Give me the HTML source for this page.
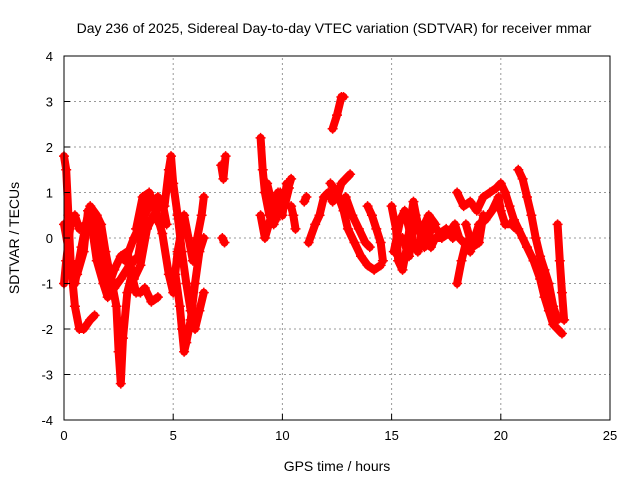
<!DOCTYPE html>
<html><head><meta charset="utf-8"><style>
body{margin:0;background:#fff}
svg{display:block;font-family:"Liberation Sans",sans-serif}
</style></head><body>
<svg id="chart" width="640" height="480" viewBox="0 0 640 480" xmlns="http://www.w3.org/2000/svg">
<text x="334" y="33" font-size="14" text-anchor="middle">Day 236 of 2025, Sidereal Day-to-day VTEC variation (SDTVAR) for receiver mmar</text>
<text transform="translate(19,238) rotate(-90)" font-size="14" text-anchor="middle">SDTVAR / TECUs</text>
<text x="337" y="471" font-size="14" text-anchor="middle">GPS time / hours</text>
<g id="grid"></g>
<g id="marks"></g>
<rect x="64" y="56" width="546" height="364" fill="none" stroke="#000" stroke-width="1"/>
<g id="ticks"></g>
</svg>
<script>
const xTicks=[0,5,10,15,20,25];
const yTicks=[-4,-3,-2,-1,0,1,2,3,4];
const trackA=[[0,1.8],[0.1,1.5],[0.2,0.5],[0.3,-0.5],[0.5,-1.5],[0.7,-2.0],[0.9,-2.0],[1.2,-1.8],[1.4,-1.7]];
const trackB=[[0,-1],[0.1,-0.5],[0.3,0.3],[0.5,0.5],[0.7,0.2],[1.0,0.3],[1.2,0.7],[1.5,0.5],[1.7,0.3],[1.9,-0.3],[2.1,-0.8],[2.3,-1.1],[2.6,-0.9],[3.0,-0.6],[3.4,-0.4],[3.7,0.5],[4.0,0.8],[4.3,0.9],[4.6,0.7],[4.8,1.5],[4.9,1.8],[5.0,1.2],[5.2,0.5],[5.4,-0.3],[5.6,-1.0],[5.8,-1.6],[6.0,-2.0],[6.2,-1.6],[6.4,-1.2]];
const trackC=[[0,0.3],[0.3,-0.5],[0.5,-1],[0.8,-0.2],[1.0,0.3],[1.2,0.5],[1.5,-0.5],[1.8,-1.0],[2.0,-1.3],[2.2,-1.0],[2.4,-1.5],[2.5,-2.5],[2.6,-3.2],[2.7,-2.2],[2.9,-1.2],[3.1,-0.8],[3.3,-1.2],[3.5,-1.2],[3.7,-1.1],[4.0,-1.4],[4.3,-1.3]];
const trackD=[[2.8,-0.5],[3.2,0],[3.5,0.3],[3.8,0.8],[4.2,0.6],[4.5,0.1],[4.8,-0.8],[5.0,-1.2],[5.2,-0.3],[5.5,0.5],[5.7,0.0],[5.9,-0.5],[6.1,0],[6.3,0.5],[6.4,0.9]];
const trackE=[[5.1,-0.8],[5.3,-1.5],[5.4,-2.0],[5.5,-2.5],[5.6,-2.3],[5.8,-1.8],[6.0,-1.0],[6.2,-0.3],[6.4,0]];
const trackF=[[7.2,1.6],[7.3,1.3],[7.4,1.8]];
const trackF2=[[7.25,0.0],[7.35,-0.1]];
const trackG=[[9.0,2.2],[9.1,1.5],[9.2,1.0],[9.4,0.5],[9.6,0.3],[9.8,0.6],[10.0,0.9],[10.2,1.0],[10.4,1.3]];
const trackG2=[[9.0,0.5],[9.2,0.0],[9.5,0.5],[9.8,1.0],[10.0,0.5],[10.2,1.2]];
const trackH=[[10.4,0.7],[10.5,0.5],[10.6,0.2]];
const trackH2=[[11.0,0.8],[11.1,0.9]];
const trackI=[[11.2,-0.1],[11.5,0.3],[11.7,0.5],[11.9,0.9],[12.1,1.0],[12.3,0.8],[12.5,0.9],[12.7,1.2],[12.9,1.3],[13.1,1.4]];
const trackJ=[[12.3,2.4],[12.5,2.7],[12.7,3.1],[12.8,3.1]];
const trackK=[[12.2,1.2],[12.5,1.0],[12.8,0.6],[13.0,0.2],[13.3,-0.1],[13.6,-0.4],[13.9,-0.6],[14.2,-0.7],[14.5,-0.6]];
const trackL=[[12.9,0.9],[13.2,0.5],[13.5,0.2],[13.8,-0.1],[14.0,-0.2]];
const trackL2=[[13.9,0.7],[14.1,0.5],[14.3,0.2],[14.5,-0.1],[14.6,-0.5]];
const trackM=[[15.0,0.7],[15.2,0.2],[15.3,-0.5],[15.5,-0.7],[15.7,-0.2],[15.9,0.5],[16.0,0.8],[16.2,0.3],[16.4,0.1],[16.6,0.3],[16.8,-0.2],[17.0,0.0],[17.3,0.0],[17.6,0.1],[17.9,0.3],[18.1,0.0],[18.3,-0.1]];
const trackN=[[15.1,-0.3],[15.4,0.4],[15.6,0.6],[15.9,0],[16.2,-0.3],[16.4,0.2],[16.7,0.5],[17.0,0.3]];
const trackO=[[18.0,1.0],[18.3,0.7],[18.6,0.8],[18.9,0.6],[19.2,0.9],[19.5,1.0],[19.8,1.1],[20.0,1.2],[20.2,1.0],[20.4,0.7],[20.6,0.4],[20.8,0.2],[21.0,0.0],[21.2,-0.2],[21.5,-0.5],[21.8,-0.9],[22.0,-1.3],[22.2,-1.6],[22.4,-1.9],[22.6,-2.0],[22.8,-2.1]];
const trackP=[[18.0,-1.0],[18.2,-0.5],[18.4,-0.1],[18.6,-0.3],[18.8,0.0],[19.0,0.3],[19.3,0.4],[19.6,0.6],[19.9,0.9],[20.0,0.6],[20.2,0.3],[20.5,0.3],[20.7,0.2]];
const trackQ=[[20.8,1.5],[21.0,1.3],[21.2,0.9],[21.4,0.5],[21.6,0.0],[21.8,-0.4],[22.0,-0.7],[22.2,-1.0],[22.4,-1.5],[22.6,-1.8]];
const trackR=[[22.6,0.3],[22.7,-0.5],[22.8,-1.2],[22.9,-1.8]];
const trackS=[[0.6,-0.8],[0.9,-0.3],[1.1,0.6],[1.4,0.2],[1.7,-0.6],[2.0,-1.1],[2.3,-0.7],[2.6,-0.4],[2.9,-0.3],[3.2,-0.9],[3.5,-0.6],[3.8,0.2],[4.1,0.5],[4.4,0.3]];
const trackT=[[3.3,0.2],[3.6,0.9],[3.9,1.0],[4.2,0.6],[4.5,0.8],[4.7,0.3]];
const trackU=[[9.3,1.2],[9.5,0.8],[9.7,0.4],[9.9,1.0],[10.1,0.7],[10.3,1.1]];
const trackV=[[15.5,0],[15.8,-0.4],[16.1,0.5],[16.5,-0.2],[16.9,0.3],[17.2,0.1],[17.5,0.2],[17.8,0.0]];
const trackW=[[18.4,0.3],[18.7,-0.2],[19.0,-0.1],[19.2,0.5]];
const tracks=[trackA,trackB,trackC,trackD,trackE,trackF,trackF2,trackG,trackG2,trackH,trackH2,trackI,trackJ,trackK,trackL,trackL2,trackM,trackN,trackO,trackP,trackQ,trackR,trackS,trackT,trackU,trackV,trackW];

const NS="http://www.w3.org/2000/svg";
const X0=64,X1=610,Y0=420,Y1=56,XMIN=0,XMAX=25,YMIN=-4,YMAX=4;
function xs(t){return X0+(t-XMIN)/(XMAX-XMIN)*(X1-X0);}
function ys(v){return Y0-(v-YMIN)/(YMAX-YMIN)*(Y0-Y1);}
function mk(tag,attrs,parent){const e=document.createElementNS(NS,tag);for(const k in attrs)e.setAttribute(k,attrs[k]);parent.appendChild(e);return e;}
const grid=document.getElementById('grid'),ticks=document.getElementById('ticks'),marks=document.getElementById('marks');
xTicks.forEach(t=>{
  const x=xs(t);
  if(t>XMIN&&t<XMAX){const g=mk('line',{x1:x,x2:x,y1:Y0,y2:Y1,stroke:'#999','stroke-dasharray':'2,3'},grid);
  
  }
  const l=mk('line',{x1:x,x2:x,y1:Y0,y2:Y0-6,stroke:'#000'},ticks);
  
  
  const tx=mk('text',{x:x,y:Y0+20,'font-size':13,'text-anchor':'middle'},ticks);tx.textContent=t;
  
  
});
yTicks.forEach(v=>{
  const y=ys(v);
  if(v>YMIN&&v<YMAX){const g=mk('line',{x1:X0,x2:X1,y1:y,y2:y,stroke:'#999','stroke-dasharray':'2,3'},grid);
  
  }
  const l=mk('line',{x1:X0,x2:X0+6,y1:y,y2:y,stroke:'#000'},ticks);
  
  
  const tx=mk('text',{x:X0-11,y:y+5,'font-size':13,'text-anchor':'end'},ticks);tx.textContent=v;
  
  
});
tracks.forEach(tr=>{
  const d=tr.map((p,i)=>(i?'L':'M')+xs(p[0]).toFixed(1)+','+ys(p[1]).toFixed(1)).join('');
  const path=mk('path',{d:d,fill:'none',stroke:'#f00','stroke-width':8,'stroke-linejoin':'round','stroke-linecap':'round'},marks);
  
  
  tr.forEach(p=>{
    const x=xs(p[0]),y=ys(p[1]);
    const m=mk('path',{d:`M${x-5},${y}H${x+5}M${x},${y-5}V${y+5}`,stroke:'#f00','stroke-width':1.5},marks);
    
    
  });
});
</script>
</body></html>
